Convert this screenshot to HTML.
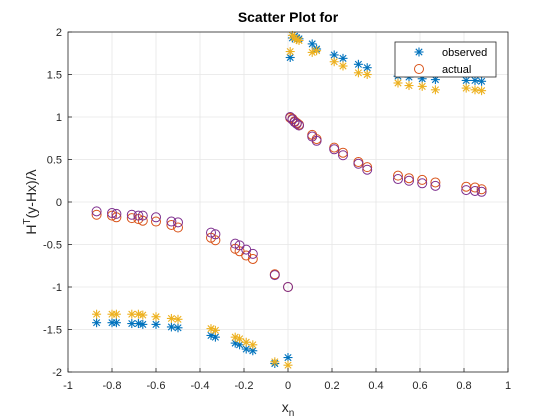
<!DOCTYPE html>
<html><head><meta charset="utf-8"><style>
body{margin:0;background:#fff;}
svg{display:block;font-family:"Liberation Sans",sans-serif;}
</style></head><body>
<svg id="c" width="560" height="420">
<rect width="560" height="420" fill="#fff"/>
<rect x="68" y="32" width="440" height="340" fill="#fff"/>
<g id="grid"></g>
<g id="marks"></g>
<rect x="68" y="32" width="440" height="340" fill="none" stroke="#262626" stroke-width="0.8"/>
<g id="ticks"></g>
<text x="288" y="22" text-anchor="middle" font-size="14" font-weight="bold" fill="#000">Scatter Plot for</text>
<text x="288" y="412" text-anchor="middle" font-size="14" fill="#262626">x<tspan font-size="10" dy="4">n</tspan></text>
<text transform="translate(36,202) rotate(-90)" text-anchor="middle" font-size="14" fill="#262626">H<tspan font-size="10" dy="-6">T</tspan><tspan dy="6">(y-Hx)/λ</tspan></text>
<g>
<rect x="395" y="42" width="101" height="35" fill="#fff" stroke="#262626" stroke-width="0.8"/>
<g id="legstar"></g>
<text x="442" y="56" font-size="11" fill="#000">observed</text>
<circle cx="419" cy="69" r="4.5" fill="none" stroke="#D95319"/>
<text x="442" y="73" font-size="11" fill="#000">actual</text>
</g>
</svg>
<script>
const xVals=[-0.87,-0.80,-0.78,-0.71,-0.68,-0.66,-0.60,-0.53,-0.50,-0.35,-0.33,-0.24,-0.22,-0.19,-0.16,-0.06,0.00,
 0.01,0.02,0.03,0.04,0.05,0.11,0.13,0.21,0.25,0.32,0.36,0.50,0.55,0.61,0.67,0.81,0.85,0.88];
const purpleVals=[-0.11,-0.13,-0.14,-0.15,-0.16,-0.16,-0.18,-0.23,-0.24,-0.36,-0.38,-0.49,-0.51,-0.56,-0.61,-0.86,-1.0,
 1.00,0.97,0.94,0.92,0.90,0.77,0.72,0.62,0.55,0.45,0.38,0.27,0.25,0.22,0.19,0.14,0.13,0.12];
const actualVals=[-0.15,-0.16,-0.18,-0.19,-0.20,-0.22,-0.23,-0.27,-0.30,-0.42,-0.45,-0.55,-0.58,-0.63,-0.67,-0.85,-1.0,
 0.99,0.98,0.95,0.93,0.91,0.79,0.74,0.64,0.58,0.47,0.41,0.31,0.28,0.26,0.23,0.18,0.17,0.15];
const observedVals=[-1.42,-1.42,-1.42,-1.43,-1.43,-1.44,-1.44,-1.47,-1.48,-1.57,-1.59,-1.66,-1.68,-1.73,-1.75,-1.90,-1.83,
 1.70,1.93,1.95,1.93,1.92,1.86,1.80,1.73,1.69,1.62,1.58,1.48,1.47,1.45,1.44,1.43,1.43,1.42];
const predVals=[-1.32,-1.32,-1.32,-1.32,-1.32,-1.33,-1.35,-1.37,-1.38,-1.49,-1.51,-1.59,-1.61,-1.65,-1.68,-1.88,-1.92,
 1.77,1.96,1.93,1.91,1.90,1.76,1.78,1.65,1.60,1.52,1.50,1.40,1.37,1.36,1.32,1.34,1.32,1.31];
const xTicks=[-1,-0.8,-0.6,-0.4,-0.2,0,0.2,0.4,0.6,0.8,1];
const yTicks=[-2,-1.5,-1,-0.5,0,0.5,1,1.5,2];
const NS='http://www.w3.org/2000/svg';
const sx=v=>68+(v+1)*220, sy=v=>202-v*85;
function mk(t,a,p){const e=document.createElementNS(NS,t);for(const k in a)e.setAttribute(k,a[k]);p.appendChild(e);return e;}
const grid=document.getElementById('grid'),ticks=document.getElementById('ticks'),marks=document.getElementById('marks');
xTicks.forEach(t=>{
 const l=mk('line',{x1:sx(t),x2:sx(t),y1:32,y2:372,stroke:'#e6e6e6','stroke-width':0.8},grid);
 
 
 mk('line',{x1:sx(t),x2:sx(t),y1:372,y2:368,stroke:'#262626','stroke-width':0.8},ticks);
 const tx=mk('text',{x:sx(t),y:389,'text-anchor':'middle','font-size':11,fill:'#262626'},ticks);
 tx.textContent=String(t);
 
 
});
yTicks.forEach(t=>{
 const l=mk('line',{x1:68,x2:508,y1:sy(t),y2:sy(t),stroke:'#e6e6e6','stroke-width':0.8},grid);
 
 
 mk('line',{x1:68,x2:72,y1:sy(t),y2:sy(t),stroke:'#262626','stroke-width':0.8},ticks);
 const tx=mk('text',{x:62,y:sy(t)+4,'text-anchor':'end','font-size':11,fill:'#262626'},ticks);
 tx.textContent=String(t);
 
 
});
function star(cx,cy,col,p){
 const g=mk('g',{stroke:col,'stroke-width':1.1},p);
 const r=4.5,d=3.2;
 mk('line',{x1:cx-r,x2:cx+r,y1:cy,y2:cy},g);
 mk('line',{x1:cx,x2:cx,y1:cy-r,y2:cy+r},g);
 mk('line',{x1:cx-d,x2:cx+d,y1:cy-d,y2:cy+d},g);
 mk('line',{x1:cx-d,x2:cx+d,y1:cy+d,y2:cy-d},g);
 return g;
}
xVals.forEach((x,i)=>{
 const s=star(sx(x),sy(observedVals[i]),'#0072BD',marks);
 
 
});
xVals.forEach((x,i)=>{
 const s=star(sx(x),sy(predVals[i]),'#EDB120',marks);
 
 
});
xVals.forEach((x,i)=>{
 const c=mk('circle',{cx:sx(x),cy:sy(actualVals[i]),r:4.5,fill:'none',stroke:'#D95319','stroke-width':1},marks);
 
 
});
xVals.forEach((x,i)=>{
 const c=mk('circle',{cx:sx(x),cy:sy(purpleVals[i]),r:4.5,fill:'none',stroke:'#7E2F8E','stroke-width':1},marks);
 
 
});
star(419,52,'#0072BD',document.getElementById('legstar'));
</script>
</body></html>
